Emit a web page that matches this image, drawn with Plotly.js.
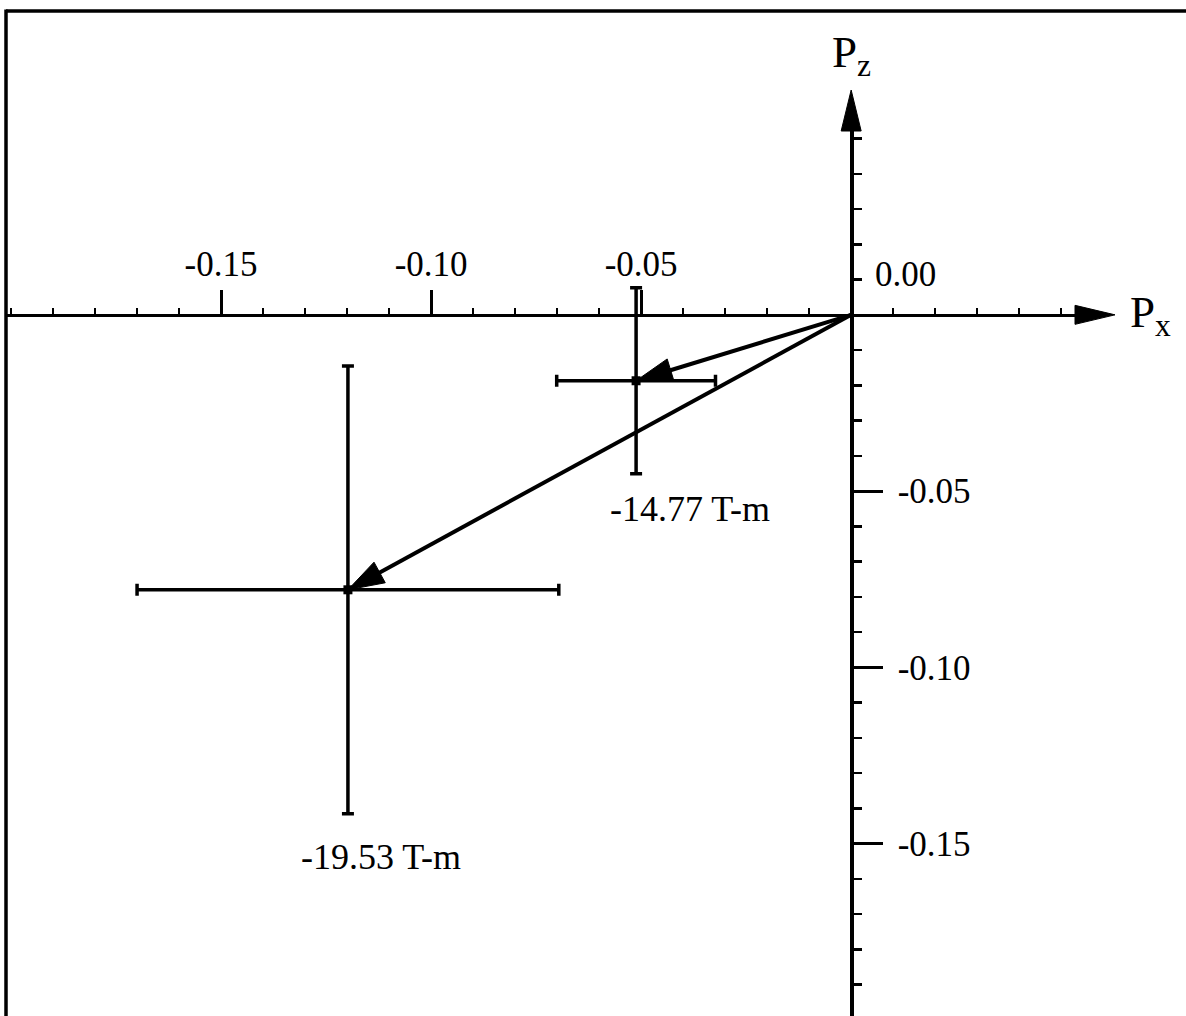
<!DOCTYPE html>
<html>
<head>
<meta charset="utf-8">
<script src="https://cdn.plot.ly/plotly-3.0.1.min.js"></script>
<style>
  html, body { margin: 0; padding: 0; background: #ffffff; }
  #chart { width: 1186px; height: 1016px; }
</style>
</head>
<body>
<div id="chart"></div>
<script>
// ---- data ----
const pointLabels = ['-14.77 T-m', '-19.53 T-m'];
const pxValues = [-0.0512, -0.1198];
const pzValues = [-0.0187, -0.0780];
const pxErrors = [0.0189, 0.0502];
const pzErrors = [0.0264, 0.0635];

const xTickVals = [-0.15, -0.10, -0.05];
const xTickText = ['-0.15', '-0.10', '-0.05'];
const yTickVals = [-0.05, -0.10, -0.15];
const yTickText = ['-0.05', '-0.10', '-0.15'];
const originLabel = '0.00';

// ---- layout ----
const FONT = 'Liberation Serif, Times New Roman, serif';
const xRange = [-0.2012, 0.0540];
const yRange = [-0.1989, 0.0530];
const xAxisPos = (0 - yRange[0]) / (yRange[1] - yRange[0]);
const yAxisPos = (0 - xRange[0]) / (xRange[1] - xRange[0]);

const traces = [];
for (let i = 0; i < pxValues.length; i++) {
  traces.push({
    type: 'scatter',
    x: [0, pxValues[i]],
    y: [0, pzValues[i]],
    mode: 'lines+markers',
    line: { color: 'black', width: 4 },
    marker: { symbol: ['circle', 'arrow'], size: [0, 38], color: ['black', 'black'],
              opacity: 1, angleref: 'previous', line: { width: 1, color: 'black' } },
    cliponaxis: false,
    hoverinfo: 'skip',
    showlegend: false
  });
}
traces.push({
  type: 'scatter',
  x: pxValues,
  y: pzValues,
  mode: 'markers',
  marker: { symbol: 'square', size: 9, color: 'black' },
  error_x: { type: 'data', array: pxErrors, visible: true, color: 'black', thickness: 3.5, width: 6 },
  error_y: { type: 'data', array: pzErrors, visible: true, color: 'black', thickness: 3.5, width: 6 },
  cliponaxis: false,
  hoverinfo: 'skip',
  showlegend: false
});

const labelShifts = [[54, -128], [33, -267]];
const annotations = pointLabels.map((t, i) => ({
  x: pxValues[i], y: pzValues[i], xref: 'x', yref: 'y',
  text: t, showarrow: false,
  xshift: labelShifts[i][0], yshift: labelShifts[i][1],
  xanchor: 'center', yanchor: 'middle',
  font: { family: FONT, size: 36, color: 'black' }
}));
annotations.push({
  x: 0, y: 0, xref: 'x', yref: 'y', text: originLabel, showarrow: false,
  xanchor: 'left', yanchor: 'middle', xshift: 22, yshift: 40,
  font: { family: FONT, size: 35, color: 'black' }
});
annotations.push({
  x: 1.0466, y: xAxisPos, xref: 'paper', yref: 'paper',
  text: 'P<sub>x</sub>', showarrow: false,
  xanchor: 'left', yanchor: 'middle', yshift: 0,
  font: { family: FONT, size: 45, color: 'black' }
});
annotations.push({
  x: yAxisPos, y: 1.0788, xref: 'paper', yref: 'paper',
  text: 'P<sub>z</sub>', showarrow: false,
  xanchor: 'center', yanchor: 'middle', xshift: 0, yshift: 3,
  font: { family: FONT, size: 45, color: 'black' }
});

const shapes = [
  // frame (top and left)
  { type: 'line', xref: 'paper', yref: 'paper', x0: 0, x1: 1.11, y0: 1.1318, y1: 1.1318,
    line: { color: 'black', width: 3.5 } },
  { type: 'line', xref: 'paper', yref: 'paper', x0: 0, x1: 0, y0: -0.01, y1: 1.1335,
    line: { color: 'black', width: 3.5 } },
  // axis arrowheads
  { type: 'path', xref: 'paper', yref: 'paper', xsizemode: 'pixel', ysizemode: 'pixel',
    xanchor: 1, yanchor: xAxisPos, path: 'M-3,-9.5 L37,0 L-3,9.5 Z',
    fillcolor: 'black', line: { color: 'black', width: 1 } },
  { type: 'path', xref: 'paper', yref: 'paper', xsizemode: 'pixel', ysizemode: 'pixel',
    xanchor: yAxisPos, yanchor: 1, path: 'M-10,-3 L0,38 L10,-3 Z',
    fillcolor: 'black', line: { color: 'black', width: 1 } }
];

const layout = {
  width: 1186, height: 1016,
  margin: { l: 6, r: 108, t: 128, b: 0, pad: 0 },
  paper_bgcolor: 'white', plot_bgcolor: 'white',
  showlegend: false,
  font: { family: FONT, color: 'black' },
  xaxis: {
    range: xRange, anchor: 'free', position: xAxisPos, side: 'top',
    showgrid: false, zeroline: false, showline: true, linecolor: 'black', linewidth: 3.5,
    tickmode: 'array', tickvals: xTickVals, ticktext: xTickText,
    ticks: 'outside', ticklen: 24, tickwidth: 3, tickcolor: 'black',
    ticklabelstandoff: 0,
    tickfont: { family: FONT, size: 35, color: 'black' },
    minor: { ticks: 'outside', tick0: 0, dtick: 0.01, ticklen: 6, tickwidth: 2.5, tickcolor: 'black', showgrid: false },
    fixedrange: true
  },
  yaxis: {
    range: yRange, anchor: 'free', position: yAxisPos, side: 'right',
    showgrid: false, zeroline: false, showline: true, linecolor: 'black', linewidth: 3.5,
    tickmode: 'array', tickvals: yTickVals, ticktext: yTickText,
    ticks: 'outside', ticklen: 29, tickwidth: 3, tickcolor: 'black',
    ticklabelstandoff: 8,
    tickfont: { family: FONT, size: 35, color: 'black' },
    minor: { ticks: 'outside', tick0: 0, dtick: 0.01, ticklen: 8, tickwidth: 2.5, tickcolor: 'black', showgrid: false },
    fixedrange: true
  },
  annotations: annotations,
  shapes: shapes
};

Plotly.newPlot('chart', traces, layout, { displayModeBar: false, staticPlot: true });
</script>
</body>
</html>
